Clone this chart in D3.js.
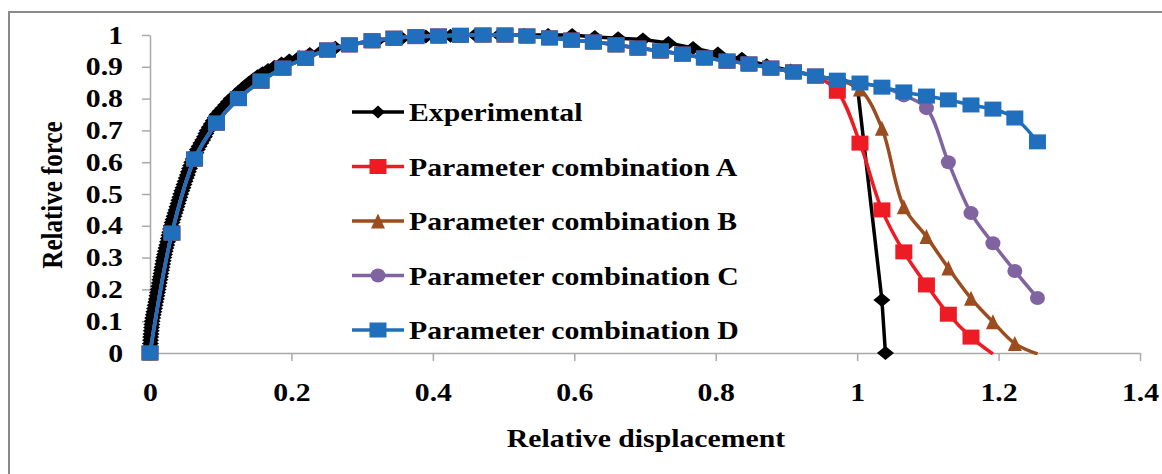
<!DOCTYPE html>
<html>
<head>
<meta charset="utf-8">
<script src="https://cdn.jsdelivr.net/npm/d3@7"></script>
<style>
  body { margin: 0; background: #fff; }
  text { font-family: "Liberation Serif", "Times New Roman", serif; font-weight: bold; fill: #000; }
</style>
</head>
<body>
<svg width="1162" height="474"></svg>
<script>
// displacement steps shared by the parameter combinations
var dispSteps = [0, 0.031, 0.063, 0.094, 0.125, 0.157, 0.188, 0.220, 0.251, 0.282,
  0.314, 0.345, 0.376, 0.408, 0.439, 0.471, 0.502, 0.533, 0.565, 0.596,
  0.627, 0.659, 0.690, 0.722, 0.753, 0.784, 0.816, 0.847, 0.878, 0.910,
  0.941, 0.972, 1.004, 1.035, 1.066, 1.098, 1.129, 1.161, 1.192, 1.223, 1.255];

var forceD = [0, 0.377, 0.61, 0.723, 0.80, 0.855, 0.896, 0.927, 0.953, 0.969,
  0.982, 0.99, 0.995, 0.997, 0.999, 1.0, 1.0, 0.997, 0.991, 0.984,
  0.978, 0.969, 0.959, 0.95, 0.94, 0.928, 0.918, 0.909, 0.896, 0.884,
  0.871, 0.858, 0.849, 0.836, 0.821, 0.808, 0.796, 0.78, 0.767, 0.739, 0.664];

var forceA = [0, 0.377, 0.61, 0.723, 0.80, 0.855, 0.896, 0.927, 0.953, 0.969,
  0.982, 0.99, 0.995, 0.997, 0.999, 1.0, 1.0, 0.997, 0.991, 0.984,
  0.978, 0.969, 0.959, 0.95, 0.94, 0.928, 0.918, 0.909, 0.896, 0.884,
  0.871, 0.823, 0.66, 0.45, 0.318, 0.214, 0.122, 0.05, -0.003];

var forceB = [0, 0.377, 0.61, 0.723, 0.80, 0.855, 0.896, 0.927, 0.953, 0.969,
  0.982, 0.99, 0.995, 0.997, 0.999, 1.0, 1.0, 0.997, 0.991, 0.984,
  0.978, 0.969, 0.959, 0.95, 0.94, 0.928, 0.918, 0.909, 0.896, 0.884,
  0.871, 0.858, 0.83, 0.707, 0.46, 0.366, 0.267, 0.172, 0.098, 0.03, -0.003];

var forceC = [0, 0.377, 0.61, 0.723, 0.80, 0.855, 0.896, 0.927, 0.953, 0.969,
  0.982, 0.99, 0.995, 0.997, 0.999, 1.0, 1.0, 0.997, 0.991, 0.984,
  0.978, 0.969, 0.959, 0.95, 0.94, 0.928, 0.918, 0.909, 0.896, 0.884,
  0.871, 0.858, 0.849, 0.836, 0.81, 0.77, 0.60, 0.44, 0.345, 0.258, 0.173];

// experimental curve, densely sampled while the force rises
var expDisp = [0, 0.0002, 0.0004, 0.0006, 0.0008, 0.001, 0.0014, 0.0018, 0.0022, 0.0026,
  0.003, 0.0038, 0.0047, 0.0055, 0.0064, 0.0072, 0.0081, 0.009, 0.0098, 0.0107,
  0.0115, 0.0123, 0.0131, 0.0139, 0.0147, 0.0155, 0.0163, 0.0171, 0.0179, 0.0187,
  0.0195, 0.0205, 0.0215, 0.0226, 0.0237, 0.0248, 0.0258, 0.0268, 0.0279, 0.029,
  0.030, 0.0313, 0.0326, 0.034, 0.0354, 0.0368, 0.0381, 0.0395, 0.0408, 0.0422,
  0.0435, 0.045, 0.0466, 0.0481, 0.0497, 0.0512, 0.0528, 0.0543, 0.0559, 0.0574,
  0.059, 0.061, 0.063, 0.065, 0.067, 0.0695, 0.072, 0.0745, 0.077, 0.079,
  0.081, 0.0838, 0.0866, 0.0894, 0.0922, 0.095, 0.099, 0.103, 0.107, 0.111,
  0.115, 0.12, 0.125, 0.13, 0.135, 0.140, 0.146, 0.152, 0.159, 0.167,
  0.176, 0.186, 0.197, 0.211, 0.226, 0.243, 0.262, 0.284,
  0.321, 0.356, 0.39, 0.425, 0.46, 0.494, 0.529, 0.563, 0.597, 0.629,
  0.662, 0.697, 0.733, 0.768, 0.803, 0.837, 0.872, 0.906, 0.941, 0.975,
  1.0, 1.035, 1.04];
var expForce = [0, 0.01, 0.02, 0.03, 0.04, 0.05, 0.06, 0.07, 0.08, 0.09,
  0.10, 0.11, 0.12, 0.13, 0.14, 0.15, 0.16, 0.17, 0.18, 0.19,
  0.20, 0.21, 0.22, 0.23, 0.24, 0.25, 0.26, 0.27, 0.28, 0.29,
  0.30, 0.31, 0.32, 0.33, 0.34, 0.35, 0.36, 0.37, 0.38, 0.39,
  0.40, 0.41, 0.42, 0.43, 0.44, 0.45, 0.46, 0.47, 0.48, 0.49,
  0.50, 0.51, 0.52, 0.53, 0.54, 0.55, 0.56, 0.57, 0.58, 0.59,
  0.60, 0.61, 0.62, 0.63, 0.64, 0.65, 0.66, 0.67, 0.68, 0.69,
  0.70, 0.71, 0.72, 0.73, 0.74, 0.75, 0.76, 0.77, 0.78, 0.79,
  0.80, 0.81, 0.82, 0.83, 0.84, 0.85, 0.86, 0.87, 0.88, 0.89,
  0.90, 0.91, 0.92, 0.93, 0.94, 0.95, 0.96, 0.97,
  0.982, 0.99, 0.995, 0.998, 1.0, 1.0, 1.0, 1.0, 1.0, 0.994,
  0.99, 0.986, 0.975, 0.959, 0.942, 0.925, 0.905, 0.888, 0.872, 0.858,
  0.845, 0.167, 0];

var seriesNames = ["Experimental", "Parameter combination A", "Parameter combination B",
  "Parameter combination C", "Parameter combination D"];
var yTicks = [0, 0.1, 0.2, 0.3, 0.4, 0.5, 0.6, 0.7, 0.8, 0.9, 1];
var xTicks = [0, 0.2, 0.4, 0.6, 0.8, 1, 1.2, 1.4];

var svg = d3.select("svg");
var stretch = 1.19;   // the picture is a bit wider than tall

var x = d3.scaleLinear().domain([0, 1.4]).range([150, 1140]),
    y = d3.scaleLinear().domain([0, 1]).range([353, 35]);

// outer chart border
svg.append("rect")
  .attr("x", 9).attr("y", 12).attr("width", 1200).attr("height", 500)
  .attr("fill", "none").attr("stroke", "#8a8a8a").attr("stroke-width", 2);

function pairs(xs, ys) {
  return ys.map(function(v, i) { return [xs[i], v]; });
}

var series = [
  { name: seriesNames[0], color: "#000000", shape: "diamond", smooth: false, data: pairs(expDisp, expForce) },
  { name: seriesNames[1], color: "#ed1c24", shape: "square",  smooth: true, data: pairs(dispSteps, forceA) },
  { name: seriesNames[2], color: "#9c4d1f", shape: "triangle", smooth: true, data: pairs(dispSteps, forceB) },
  { name: seriesNames[3], color: "#8064a2", shape: "circle",  smooth: true, data: pairs(dispSteps, forceC) },
  { name: seriesNames[4], color: "#1f6fbd", shape: "square",  smooth: true, data: pairs(dispSteps, forceD) }
];

// marker outlines, a touch wider than tall like the picture
var shapes = {
  diamond: "M0,-7L8.5,0L0,7L-8.5,0Z",
  square: "M-8.5,-7.5H8.5V7.5H-8.5Z",
  triangle: "M0,-7.5L7,7.5L-7,7.5Z",
  circle: "M-7.5,0A7.5,7,0,1,0,7.5,0A7.5,7,0,1,0,-7.5,0Z"
};
var legendDiamond = "M0,-6.5L7,0L0,6.5L-7,0Z";

// axes
var yAxis = svg.append("g")
  .attr("transform", "translate(150,0)")
  .call(d3.axisLeft(y).tickValues(yTicks).tickSize(8).tickSizeOuter(0)
    .tickFormat(function(d) { return String(+d.toFixed(1)); }));

var xAxis = svg.append("g")
  .attr("transform", "translate(0,353)")
  .call(d3.axisBottom(x).tickValues(xTicks).tickSize(8).tickSizeOuter(0)
    .tickFormat(function(d) { return String(+d.toFixed(1)); }));

[yAxis, xAxis].forEach(function(ax) {
  ax.select(".domain").attr("stroke", "#a9a9a9").attr("stroke-width", 1.5);
  ax.selectAll(".tick line").attr("stroke", "#a9a9a9").attr("stroke-width", 1.5);
  ax.selectAll("text").attr("font-size", 25).attr("font-family", null)
    .attr("fill", "#000").attr("x", null).attr("y", null).attr("dy", null);
});
yAxis.selectAll("text").attr("text-anchor", "end")
  .attr("transform", "translate(-27,8) scale(" + stretch + ",1)");
xAxis.selectAll("text").attr("text-anchor", "middle")
  .attr("transform", "translate(0,48) scale(" + stretch + ",1)");

// axis titles
svg.append("text")
  .attr("text-anchor", "middle").attr("font-size", 25)
  .attr("transform", "translate(646,447) scale(" + stretch + ",1)")
  .text("Relative displacement");

svg.append("text")
  .attr("text-anchor", "middle").attr("font-size", 25)
  .attr("transform", "translate(62,195) scale(" + stretch + ",1) rotate(-90)")
  .text("Relative force");

// lines are clipped to the plot area, markers are not
svg.append("clipPath").attr("id", "plotClip")
  .append("rect").attr("x", 140).attr("y", 20).attr("width", 1010).attr("height", 335);

function lineFor(s) {
  return d3.line()
    .x(function(d) { return x(d[0]); })
    .y(function(d) { return y(d[1]); })
    .curve(s.smooth ? d3.curveCatmullRom.alpha(0.5) : d3.curveLinear);
}

series.forEach(function(s) {
  var g = svg.append("g");
  g.append("path")
    .datum(s.data)
    .attr("clip-path", "url(#plotClip)")
    .attr("fill", "none")
    .attr("stroke", s.color)
    .attr("stroke-width", 3.5)
    .attr("stroke-linejoin", "round")
    .attr("d", lineFor(s));
  g.selectAll(".marker")
    .data(s.data.filter(function(d) { return d[1] >= 0; }))
    .enter().append("path")
      .attr("class", "marker")
      .attr("transform", function(d) { return "translate(" + x(d[0]) + "," + y(d[1]) + ")"; })
      .attr("d", shapes[s.shape])
      .attr("fill", s.color);
});

// legend
var legend = svg.append("g");
series.forEach(function(s, i) {
  var ly = 112 + i * 54.5;
  legend.append("line")
    .attr("x1", 352).attr("x2", 404).attr("y1", ly).attr("y2", ly)
    .attr("stroke", s.color).attr("stroke-width", 3.5);
  legend.append("path")
    .attr("transform", "translate(378," + ly + ")")
    .attr("d", s.shape == "diamond" ? legendDiamond : shapes[s.shape])
    .attr("fill", s.color);
  legend.append("text")
    .attr("font-size", 25)
    .attr("transform", "translate(409," + (ly + 9) + ") scale(" + stretch + ",1)")
    .text(s.name);
});
</script>
</body>
</html>
